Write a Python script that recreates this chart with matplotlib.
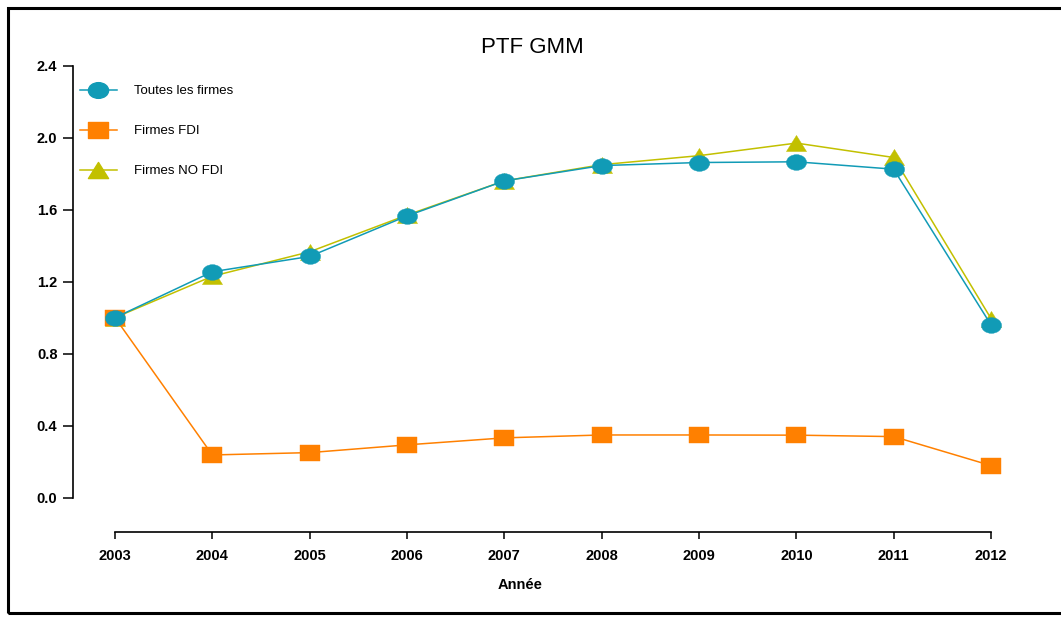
import matplotlib
matplotlib.use("Agg")
import matplotlib.pyplot as plt
from matplotlib.path import Path
from matplotlib.transforms import Affine2D
from matplotlib.lines import Line2D
from matplotlib.patches import Rectangle
import numpy as np

# ---- data ----
years = [2003, 2004, 2005, 2006, 2007, 2008, 2009, 2010, 2011, 2012]
toutes = [1.00, 1.255, 1.34, 1.565, 1.76, 1.845, 1.862, 1.866, 1.825, 0.96]
fdi = [1.00, 0.237, 0.25, 0.293, 0.332, 0.348, 0.348, 0.347, 0.339, 0.178]
no_fdi = [1.00, 1.23, 1.366, 1.57, 1.76, 1.85, 1.90, 1.97, 1.89, 0.995]
labels = ["Toutes les firmes", "Firmes FDI", "Firmes NO FDI"]
yticks = [0.0, 0.4, 0.8, 1.2, 1.6, 2.0, 2.4]
title = "PTF GMM"
xlabel = "Année"

c_teal = "#119bb6"
c_orange = "#ff8000"
c_olive = "#c2c000"

plt.rcParams["font.family"] = ["Liberation Sans", "DejaVu Sans"]

# squashed marker shapes
ell = Path.unit_circle().transformed(Affine2D().scale(1.0, 0.78))
sq = Path([(-0.5, -0.39), (0.5, -0.39), (0.5, 0.39), (-0.5, 0.39), (-0.5, -0.39)],
          [Path.MOVETO, Path.LINETO, Path.LINETO, Path.LINETO, Path.CLOSEPOLY])
tri = Path([(-0.5, -0.4), (0.5, -0.4), (0.0, 0.4), (-0.5, -0.4)],
           [Path.MOVETO, Path.LINETO, Path.LINETO, Path.CLOSEPOLY])

W, H = 1061, 617
fig = plt.figure(figsize=(W / 100, H / 100), dpi=100)
ax = fig.add_axes([73 / W, (H - 532) / H, (1000 - 73) / W, (532 - 65.7) / H])

ms = 14.5
lw = 1.1
series = [
    (no_fdi, c_olive, tri, 2),
    (fdi, c_orange, sq, 3),
    (toutes, c_teal, ell, 4),
]
for vals, col, mk, z in series:
    ax.plot(years, vals, color=col, lw=lw, marker=mk, ms=ms, mfc=col, mec=col,
            mew=0.3, zorder=z, clip_on=False)

# axes
px_per_year = (991 - 115) / 9
ax.set_xlim(2003 - (115 - 73) / px_per_year, 2012 + (1000 - 991) / px_per_year)
y0 = -(532 - 497.6) / ((497.6 - 65.7) / 2.4)
ax.set_ylim(y0, 2.4)
for s in ["top", "right"]:
    ax.spines[s].set_visible(False)
ax.spines["left"].set_bounds(0, 2.4)
ax.spines["bottom"].set_bounds(2003, 2012)
for s in ["left", "bottom"]:
    ax.spines[s].set_linewidth(1.2)
ax.set_xticks(years)
ax.set_xticklabels([str(y) for y in years])
ax.set_yticks(yticks)
ax.set_yticklabels([f"{v:.1f}" for v in yticks])
ax.tick_params(axis="y", length=7.2, width=1.1, pad=4, labelsize=10.5)
ax.tick_params(axis="x", length=5, width=1.1, pad=7, labelsize=10.5)
for t in ax.get_xticklabels() + ax.get_yticklabels():
    t.set_fontweight("bold")

# title & x label
fig.text(532 / W, 1 - 53 / H, title, ha="center", va="baseline", fontsize=16)
fig.text(520 / W, 1 - 589 / H, xlabel, ha="center", va="baseline",
         fontsize=10.5, fontweight="bold")

# legend
handles = [
    Line2D([], [], color=c_teal, lw=lw, marker=ell, ms=ms, mfc=c_teal, mec=c_teal),
    Line2D([], [], color=c_orange, lw=lw, marker=sq, ms=ms, mfc=c_orange, mec=c_orange),
    Line2D([], [], color=c_olive, lw=lw, marker=tri, ms=ms, mfc=c_olive, mec=c_olive),
]
fig.legend(handles, labels, loc="upper left", bbox_to_anchor=(80 / W, 1 - 85 / H),
           frameon=False, fontsize=9.5, handlelength=2.8, handletextpad=1.3,
           labelspacing=2.1, borderpad=0, borderaxespad=0)

# outer frame
fig.patches.append(Rectangle((8 / W, 1 - 613 / H), 1.05, (613 - 7.5) / H,
                             transform=fig.transFigure, fill=False,
                             edgecolor="black", lw=2.2, clip_on=False))

fig.savefig("out.png", dpi=100)
